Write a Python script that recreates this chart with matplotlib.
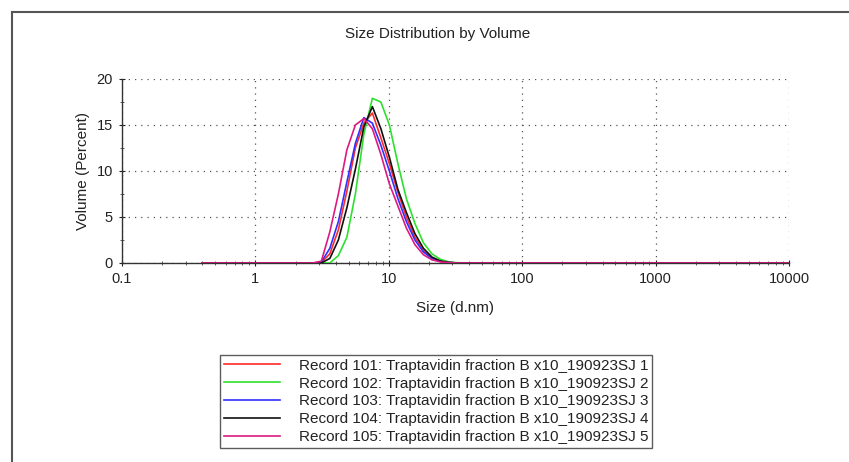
import matplotlib
matplotlib.use("Agg")
import matplotlib.pyplot as plt
from matplotlib.lines import Line2D

plt.rcParams['font.family'] = ['Liberation Sans', 'DejaVu Sans']

# Size bins (d.nm)
sizes = [0.4, 0.4632, 0.5365, 0.6213, 0.7195, 0.8332, 0.9649, 1.117, 1.294, 1.499,
         1.736, 2.01, 2.328, 2.696, 3.122, 3.615, 4.187, 4.849, 5.615, 6.503,
         7.531, 8.721, 10.1, 11.7, 13.54, 15.69, 18.17, 21.04, 24.36, 28.21,
         32.67, 37.84, 43.82, 50.75, 58.77, 68.06, 78.82, 91.28, 105.7, 122.4,
         141.8, 164.2, 190.1, 220.2, 255.0, 295.3, 342.0, 396.1, 458.7, 531.2,
         615.1, 712.4, 825.0, 955.4, 1106, 1281, 1484, 1718, 1990, 2305,
         2669, 3091, 3580, 4145, 4801, 5560, 6439, 7456, 8635, 10000]

zeros_low = [0.0] * 14      # bins 0.4 .. 2.696
zeros_high = [0.0] * 38     # bins 43.82 .. 10000

rec101 = zeros_low + [0.05, 1.0, 3.6, 7.8, 12.5, 15.2, 16.3, 13.6, 10.8, 7.7,
                      5.0, 2.8, 1.35, 0.55, 0.18, 0.05, 0.0, 0.0] + zeros_high
rec102 = zeros_low + [0.0, 0.0, 0.8, 2.8, 7.5, 14.0, 17.9, 17.5, 15.0, 10.8,
                      7.0, 4.3, 2.2, 1.0, 0.4, 0.12, 0.03, 0.0] + zeros_high
rec103 = zeros_low + [0.1, 1.6, 4.5, 8.8, 13.0, 15.8, 15.2, 12.8, 10.0, 7.0,
                      4.5, 2.5, 1.2, 0.5, 0.16, 0.05, 0.0, 0.0] + zeros_high
rec104 = zeros_low + [0.0, 0.5, 2.5, 6.0, 10.2, 14.8, 17.0, 14.6, 11.5, 8.0,
                      5.5, 3.2, 1.6, 0.65, 0.22, 0.06, 0.0, 0.0] + zeros_high
rec105 = zeros_low + [0.2, 3.4, 7.5, 12.3, 15.0, 15.7, 14.6, 11.8, 8.6, 6.2,
                      3.8, 2.0, 0.9, 0.35, 0.12, 0.04, 0.0, 0.0] + zeros_high

labels = ["Record 101: Traptavidin fraction B x10_190923SJ 1",
          "Record 102: Traptavidin fraction B x10_190923SJ 2",
          "Record 103: Traptavidin fraction B x10_190923SJ 3",
          "Record 104: Traptavidin fraction B x10_190923SJ 4",
          "Record 105: Traptavidin fraction B x10_190923SJ 5"]
series = [rec101, rec102, rec103, rec104, rec105]
colors = ["#ff2a2a", "#2ee02e", "#3030ff", "#111111", "#dd1a80"]

x_ticks = [0.1, 1, 10, 100, 1000, 10000]
x_ticklabels = ["0.1", "1", "10", "100", "1000", "10000"]
y_ticks = [0, 5, 10, 15, 20]

W, H = 849, 462
fig = plt.figure(figsize=(W / 100, H / 100), dpi=100)
ax = fig.add_axes([122 / W, 1 - 263 / H, (789 - 122) / W, (263 - 79) / H])

for s, c, lab in zip(series, colors, labels):
    ax.plot(sizes, s, color=c, lw=1.2, label=lab, zorder=3)

ax.set_xscale('log')
ax.set_xlim(0.1, 10000)
ax.set_ylim(0, 20)
ax.set_xticks(x_ticks)
ax.set_xticklabels(x_ticklabels)
ax.set_yticks(y_ticks)
ax.set_yticks([2.5, 7.5, 12.5, 17.5], minor=True)
ax.tick_params(which='major', direction='inout', length=5, width=0.8,
               labelsize=10.5, colors='#222222', pad=4)
ax.tick_params(which='minor', direction='inout', length=3, width=0.6, colors='#444444')
ax.tick_params(axis='x', which='minor', labelbottom=False)

ax.grid(True, which='major', linestyle=(0, (1, 4)), color='#555555', lw=0.9)
for sp in ['top', 'right']:
    ax.spines[sp].set_visible(False)
for sp in ['left', 'bottom']:
    ax.spines[sp].set_color('#333333')
    ax.spines[sp].set_linewidth(1.0)

ax.set_xlabel("Size (d.nm)", fontsize=11, labelpad=11, color='#222222')
ax.set_ylabel("Volume (Percent)", fontsize=11, labelpad=5, color='#222222')
fig.text(438 / W, 1 - 34 / H, "Size Distribution by Volume", fontsize=11,
         ha='center', va='center', color='#222222')

leg = fig.legend(loc='upper left', bbox_to_anchor=(220 / W, 1 - 355 / H),
                 frameon=True, fancybox=False, fontsize=11, handlelength=3.7,
                 handletextpad=1.2, labelspacing=0.25, borderpad=0.25,
                 borderaxespad=0)
leg.get_frame().set_edgecolor('#333333')
leg.get_frame().set_linewidth(1.0)
for t in leg.get_texts():
    t.set_color('#222222')

# page border (left and top)
fig.add_artist(Line2D([12 / W, 12 / W], [0, 1 - 12 / H], color='#555555', lw=1.5))
fig.add_artist(Line2D([12 / W, 1], [1 - 12 / H, 1 - 12 / H], color='#555555', lw=1.5))

fig.savefig("out.png", dpi=100)
